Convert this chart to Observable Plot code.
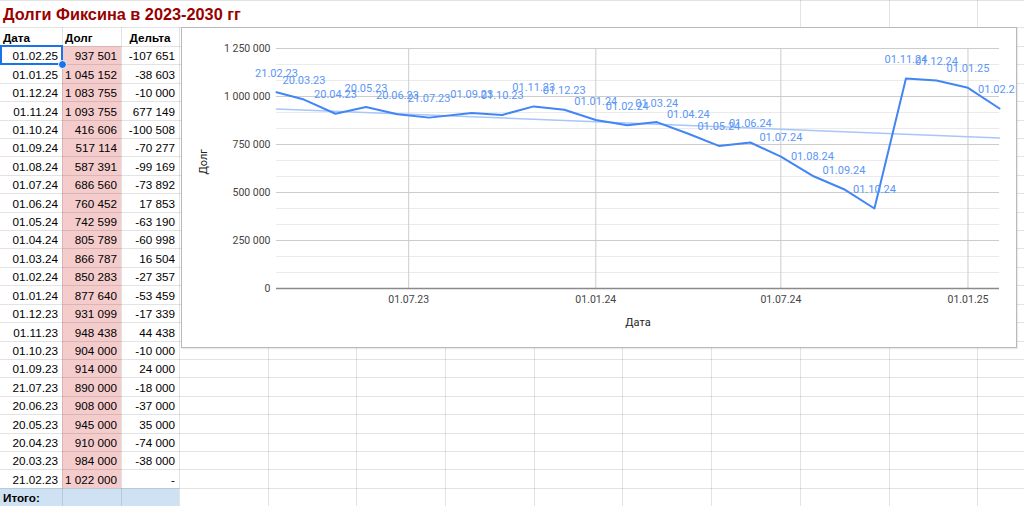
<!DOCTYPE html>
<html><head><meta charset="utf-8">
<script src="https://cdn.jsdelivr.net/npm/d3@7"></script>
<script src="https://cdn.jsdelivr.net/npm/@observablehq/plot@0.6"></script>
<style>
html,body{margin:0;padding:0;background:#fff;width:1024px;height:506px;overflow:hidden;position:relative;font-family:Arial,"Liberation Sans",sans-serif;}
.hl{position:absolute;height:1px;background:rgba(0,0,0,0.11);}
.vl{position:absolute;width:1px;background:rgba(0,0,0,0.11);}
.fill{position:absolute;}
.cell{position:absolute;font-size:11.7px;color:#000;white-space:nowrap;box-sizing:border-box;padding-top:1px;overflow:hidden;}
.b{font-weight:bold;}
#title{position:absolute;left:3px;top:6px;font-weight:bold;font-size:16.3px;line-height:16px;color:#990000;white-space:nowrap;}
#chartbox{position:absolute;left:181px;top:27px;width:836px;height:321px;box-sizing:border-box;border:1px solid #b9b9b9;background:#fff;overflow:hidden;box-shadow:1px 1px 1px rgba(0,0,0,0.08);}
#chartbox svg{display:block;}
</style></head><body>
<div id="sheet"></div>
<div id="title"></div>
<div id="chartbox"></div>
<script>
// ---- data ----
const titleText = "Долги Фиксина в 2023-2030 гг";
const headers = ["Дата", "Долг", "Дельта"];
const totalLabel = "Итого:";
const dates = ["01.02.25","01.01.25","01.12.24","01.11.24","01.10.24","01.09.24","01.08.24","01.07.24","01.06.24","01.05.24","01.04.24","01.03.24","01.02.24","01.01.24","01.12.23","01.11.23","01.10.23","01.09.23","21.07.23","20.06.23","20.05.23","20.04.23","20.03.23","21.02.23"];
const debts = [937501,1045152,1083755,1093755,416606,517114,587391,686560,760452,742599,805789,866787,850283,877640,931099,948438,904000,914000,890000,908000,945000,910000,984000,1022000];
const deltas = [-107651,-38603,-10000,677149,-100508,-70277,-99169,-73892,17853,-63190,-60998,16504,-27357,-53459,-17339,44438,-10000,24000,-18000,-37000,35000,-74000,-38000,null];
const xTickLabels = ["01.07.23","01.01.24","01.07.24","01.01.25"];
const yTickValues = [0,250000,500000,750000,1000000,1250000];
const xLabel = "Дата";
const yLabel = "Долг";

// ---- formatting ----
const locale = d3.formatLocale({decimal: ",", thousands: " ", grouping: [3], currency: ["", ""], minus: "-"});
const fmt = locale.format(",d");
const parseDate = d3.utcParse("%d.%m.%y");
const fmtDate = d3.utcFormat("%d.%m.%y");

// ---- spreadsheet ----
document.getElementById("title").textContent = titleText;
const sheet = document.getElementById("sheet");
const R = k => Math.round(27.4 + 18.42 * k);
const cols = [0, 62, 121, 179, 268, 356, 445, 534, 622, 711, 800, 889, 977];
function add(cls, style, text) {
  const d = document.createElement("div");
  d.className = cls;
  Object.assign(d.style, style);
  if (text != null) d.textContent = text;
  sheet.appendChild(d);
  return d;
}
// fills
for (let i = 0; i < dates.length; i++) {
  add("fill", {left: "62px", top: R(i + 1) + "px", width: "59px", height: (R(i + 2) - R(i + 1)) + "px", background: "#f4cccc"});
}
add("fill", {left: "0px", top: R(25) + "px", width: "179px", height: (506 - R(25)) + "px", background: "#cfe2f3"});
// grid lines
add("hl", {left: "0px", top: "0px", width: "1024px"});
for (let k = 0; k <= 25; k++) add("hl", {left: "0px", top: R(k) + "px", width: "1024px"});
for (const x of cols.slice(1)) {
  const top = x >= 800 ? 0 : R(0);
  add("vl", {left: x + "px", top: top + "px", height: (506 - top) + "px"});
}
// header cells
const lineH = (k) => (R(k + 1) - R(k)) + "px";
add("cell b", {left: "0px", top: R(0) + "px", width: "62px", lineHeight: lineH(0), paddingLeft: "3px"}, headers[0]);
add("cell b", {left: "62px", top: R(0) + "px", width: "59px", lineHeight: lineH(0), paddingLeft: "3px"}, headers[1]);
add("cell b", {left: "121px", top: R(0) + "px", width: "58px", lineHeight: lineH(0), textAlign: "center"}, headers[2]);
// data cells
for (let i = 0; i < dates.length; i++) {
  const k = i + 1;
  const base = {top: R(k) + "px", lineHeight: lineH(k), textAlign: "right", paddingRight: "4px"};
  add("cell", {...base, left: "0px", width: "62px"}, dates[i]);
  add("cell", {...base, left: "62px", width: "59px"}, fmt(debts[i]));
  add("cell", {...base, left: "121px", width: "58px"}, deltas[i] == null ? "-" : fmt(deltas[i]));
}
add("cell b", {left: "0px", top: R(25) + "px", width: "62px", lineHeight: lineH(25), paddingLeft: "3px"}, totalLabel);
// selection
add("fill", {left: "0px", top: (R(1) - 1) + "px", width: "63px", height: (R(2) - R(1) + 2) + "px", border: "2px solid #1a73e8", boxSizing: "border-box"});
add("fill", {left: "58px", top: (R(2) - 4) + "px", width: "7px", height: "7px", borderRadius: "50%", background: "#1a73e8", border: "1px solid #fff"});

// ---- chart ----
const series = dates.map((d, i) => ({date: parseDate(d), debt: debts[i], label: d}))
  .sort((a, b) => a.date - b.date);
const xTicks = xTickLabels.map(parseDate);
const d0 = series[0].date, d1 = series[series.length - 1].date;
// linear trend line (least squares on the data)
const mx = d3.mean(series, d => +d.date), my = d3.mean(series, d => d.debt);
const slope = d3.sum(series, d => (+d.date - mx) * (d.debt - my)) / d3.sum(series, d => (+d.date - mx) ** 2);
const trend = [d0, d1].map(t => ({date: t, value: my + slope * (+t - mx)}));
const minorTicks = d3.range(0, 1250001, 250000 / 3).filter((v, i) => i % 3 !== 0);

const W = 834, H = 319;
const chart = Plot.plot({
  width: W, height: H,
  marginLeft: 94, marginRight: 17, marginTop: 20, marginBottom: 59,
  style: {fontFamily: "Roboto, Arial, sans-serif", fontSize: "10.5px", color: "#444", background: "white"},
  x: {type: "utc", domain: [d0, d1], ticks: xTicks, tickFormat: fmtDate, tickSize: 0, tickPadding: 7, label: null},
  y: {domain: [0, 1250000], ticks: yTickValues, tickFormat: fmt, tickSize: 0, tickPadding: 6, label: null},
  marks: [
    Plot.ruleY(minorTicks, {stroke: "#ebebeb"}),
    Plot.ruleY(yTickValues.filter(v => v > 0), {stroke: "#cccccc"}),
    Plot.ruleX(xTicks, {stroke: "#cccccc"}),
    Plot.ruleY([0], {stroke: "#8a8a8a", strokeWidth: 1.5}),
    Plot.line(trend, {x: "date", y: "value", stroke: "#a8c6fa", strokeWidth: 1.5}),
    Plot.line(series, {x: "date", y: "debt", stroke: "#4285f4", strokeWidth: 2}),
    Plot.text(series, {x: "date", y: "debt", text: "label", dy: -19, fill: "#5b96f6", fontSize: 11}),
    Plot.text([xLabel], {text: d => d, frameAnchor: "bottom", dy: 37, fill: "#222", fontSize: 11}),
    Plot.text([yLabel], {text: d => d, frameAnchor: "left", dx: -73, dy: 6, rotate: -90, fill: "#222", fontSize: 11})
  ]
});
document.getElementById("chartbox").appendChild(chart);
</script>
</body></html>
